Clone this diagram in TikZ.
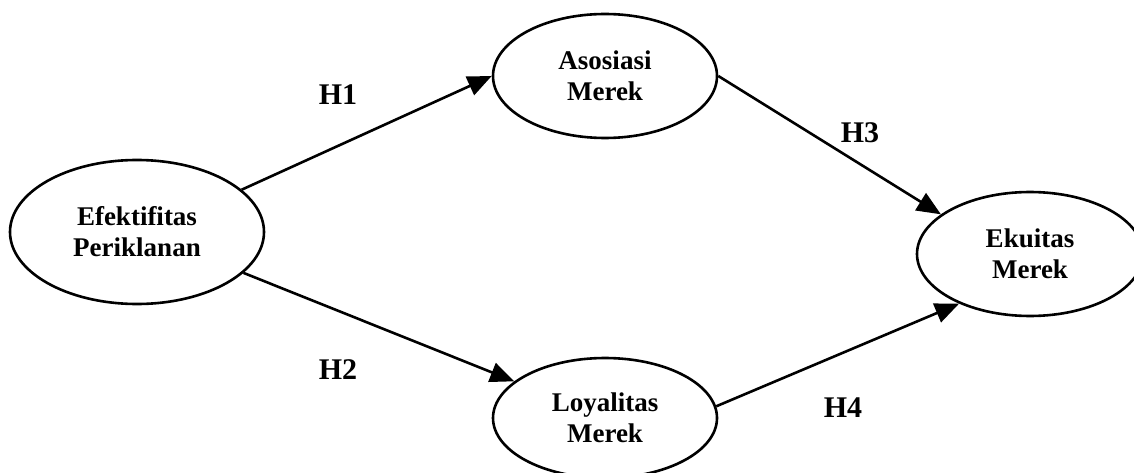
\documentclass[tikz,border=0pt]{standalone}
\usepackage{fontspec}
\setmainfont{Liberation Serif}
\usetikzlibrary{shapes,arrows.meta}

\tikzset{
  konstruk/.style={draw, ellipse, line width=2.6pt, inner sep=0pt, align=center,
    font=\fontsize{27}{31}\selectfont\bfseries},
  hipotesis/.style={-{Triangle[length=24pt,width=20pt]}, line width=2.6pt},
  hlabel/.style={font=\fontsize{30}{34}\selectfont\bfseries}
}

\begin{document}
\begin{tikzpicture}[x=1pt,y=-1pt]

\useasboundingbox (0,0) rectangle (1134,473);

\node [konstruk, minimum width=254pt, minimum height=144pt] (efek) at (137,232) {Efektifitas\\Periklanan};
\node [konstruk, minimum width=224pt, minimum height=124pt] (asos) at (605,76) {Asosiasi\\Merek};
\node [konstruk, minimum width=224pt, minimum height=120pt] (loya) at (605,418) {Loyalitas\\Merek};
\node [konstruk, minimum width=226pt, minimum height=124pt] (ekui) at (1030,254) {Ekuitas\\Merek};

\draw [hipotesis] (efek.22) -- (asos.west);
\draw [hipotesis] (efek.-21) -- (loya.158);
\draw [hipotesis] (asos.east) -- (ekui.156);
\draw [hipotesis] (loya.6) -- (ekui.215);

\node [hlabel] (h1) at (338,95) {H1};
\node [hlabel] (h2) at (338,370) {H2};
\node [hlabel] (h3) at (860,133) {H3};
\node [hlabel] (h4) at (843,408) {H4};

\end{tikzpicture}
\end{document}
